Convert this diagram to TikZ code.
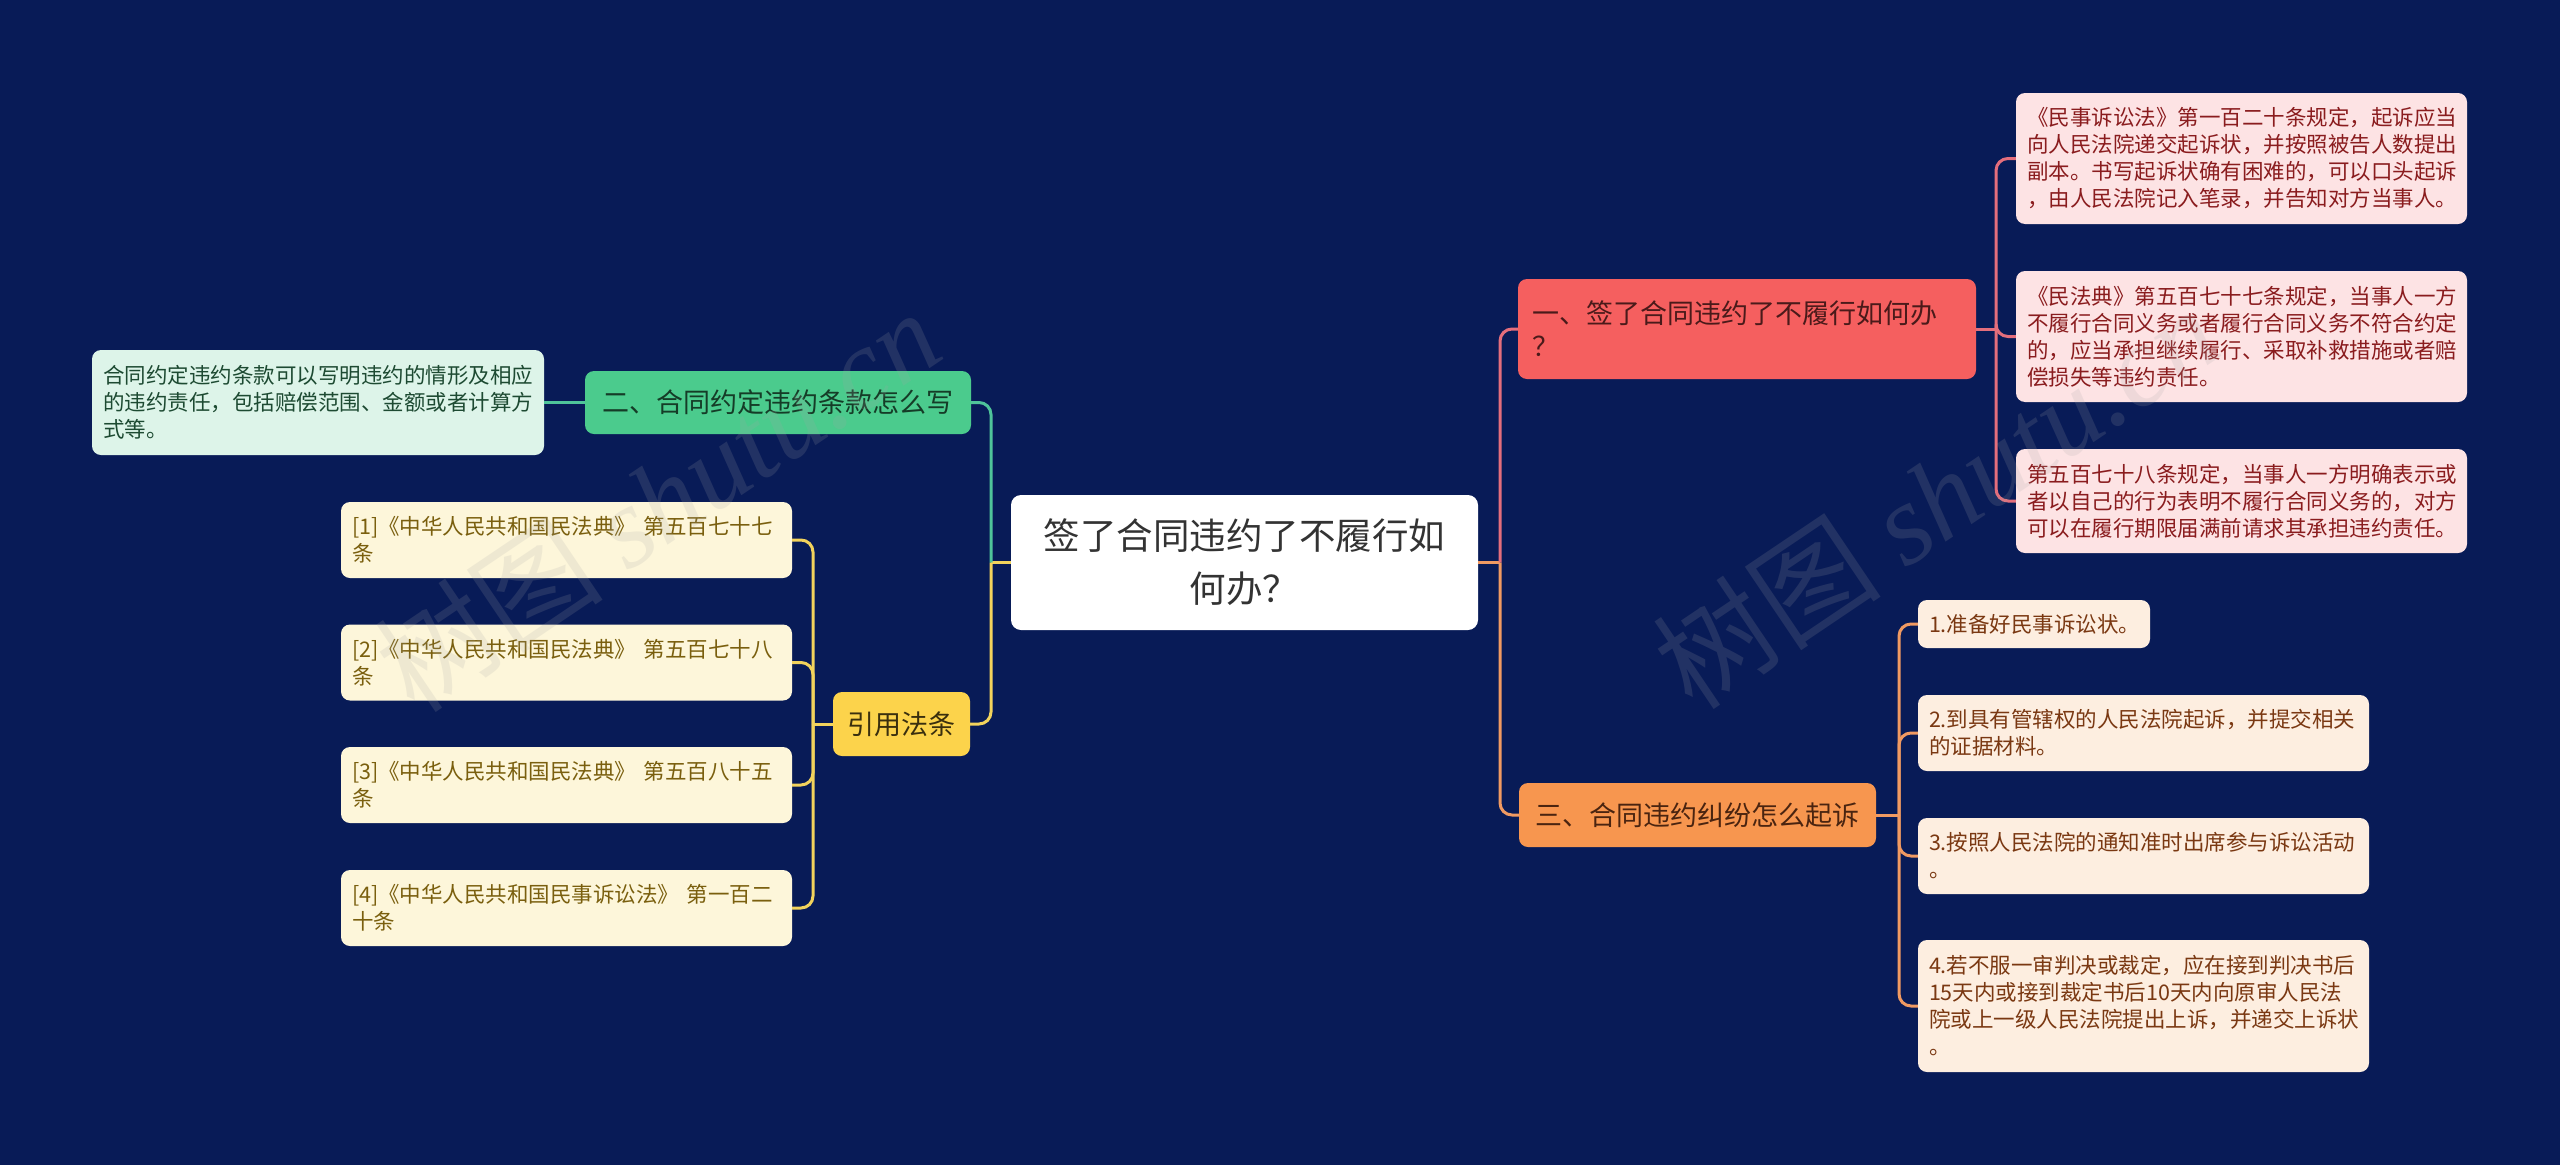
\documentclass[tikz,border=0pt]{standalone}
\usepackage{fontspec}
\setmainfont{Noto Sans CJK SC}
\newfontfamily\wmlatin{Liberation Serif}
\definecolor{bg}{HTML}{081B57}
\definecolor{pinkfill}{HTML}{FDE3E4}
\definecolor{pinktext}{HTML}{8A1C1E}
\definecolor{pinkline}{HTML}{E46E7C}
\definecolor{redfill}{HTML}{F55F5F}
\definecolor{redtext}{HTML}{4A1A1A}
\definecolor{orfill}{HTML}{FDEEE0}
\definecolor{ortext}{HTML}{7A3812}
\definecolor{orline}{HTML}{F09A62}
\definecolor{orbranch}{HTML}{F7964F}
\definecolor{orbtext}{HTML}{4A2410}
\definecolor{grfill}{HTML}{DDF4E9}
\definecolor{grtext}{HTML}{1D4A32}
\definecolor{grline}{HTML}{4FC49A}
\definecolor{grbranch}{HTML}{4BCB8D}
\definecolor{grbtext}{HTML}{153C27}
\definecolor{yefill}{HTML}{FDF6DA}
\definecolor{yetext}{HTML}{7A5F0E}
\definecolor{yeline}{HTML}{F2D35C}
\definecolor{yebranch}{HTML}{FCD34B}
\definecolor{yebtext}{HTML}{3A2F0E}
\definecolor{ctext}{HTML}{333333}
\tikzset{
  box/.style={rounded corners=9pt, inner xsep=11pt, inner ysep=0pt, align=left},
  leaf/.style={box, font=\fontsize{21.5}{27}\selectfont},
  leafP/.style={leaf, fill=pinkfill, text=pinktext, minimum width=451pt, text width=429pt},
  leafO/.style={leaf, fill=orfill, text=ortext},
  leafG/.style={leaf, fill=grfill, text=grtext, minimum width=452pt, text width=430pt},
  leafY/.style={leaf, fill=yefill, text=yetext, minimum width=451pt, text width=429pt, minimum height=76pt},
  branch/.style={rounded corners=9pt, inner sep=0pt, align=center, font=\fontsize{27}{33}\selectfont},
  conn/.style={line width=3pt},
  rc/.style={rounded corners=12pt},
  wm/.style={rotate=34, opacity=0.17, text=gray!70, font=\fontsize{115}{115}\selectfont}
}
\begin{document}
\begin{tikzpicture}[x=1pt,y=-1pt]
\fill[bg] (0,0) rectangle (2560,1165);
\useasboundingbox (0,0) rectangle (2560,1165);

% center
\node[rounded corners=10pt, fill=white, text=ctext, minimum width=467pt, minimum height=135pt,
  align=center, inner sep=0pt, font=\fontsize{36.5}{53}\selectfont] (c) at (1244.5,562.5)
  {签了合同违约了不履行如\\何办？};

% branches
\node[box, fill=redfill, text=redtext, minimum width=458pt, text width=430pt, inner xsep=14pt,
  minimum height=100pt, font=\fontsize{27}{33}\selectfont] (b1) at (1747,329)
  {一、签了合同违约了不履行如何办\\？};
\node[branch, fill=grbranch, text=grbtext, minimum width=386pt, minimum height=63pt] (b2) at (778,402.5)
  {二、合同约定违约条款怎么写};
\node[branch, fill=orbranch, text=orbtext, minimum width=357pt, minimum height=64pt] (b3) at (1697.5,815)
  {三、合同违约纠纷怎么起诉};
\node[branch, fill=yebranch, text=yebtext, minimum width=137pt, minimum height=64pt] (yr) at (901.5,724)
  {引用法条};

% pink leaves
\node[leafP, minimum height=131pt] (p1) at (2241.5,158.5)
  {《民事诉讼法》第一百二十条规定，起诉应当\\向人民法院递交起诉状，并按照被告人数提出\\副本。书写起诉状确有困难的，可以口头起诉\\，由人民法院记入笔录，并告知对方当事人。};
\node[leafP, minimum height=131pt] (p2) at (2241.5,336.5)
  {《民法典》第五百七十七条规定，当事人一方\\不履行合同义务或者履行合同义务不符合约定\\的，应当承担继续履行、采取补救措施或者赔\\偿损失等违约责任。};
\node[leafP, minimum height=104pt] (p3) at (2241.5,501)
  {第五百七十八条规定，当事人一方明确表示或\\者以自己的行为表明不履行合同义务的，对方\\可以在履行期限届满前请求其承担违约责任。};

% orange leaves
\node[leafO, minimum width=232pt, text width=210pt, minimum height=48pt] (o1) at (2034,624)
  {1.准备好民事诉讼状。};
\node[leafO, minimum width=451pt, text width=429pt, minimum height=76pt] (o2) at (2143.5,733)
  {2.到具有管辖权的人民法院起诉，并提交相关\\的证据材料。};
\node[leafO, minimum width=451pt, text width=429pt, minimum height=76pt] (o3) at (2143.5,856)
  {3.按照人民法院的通知准时出席参与诉讼活动\\。};
\node[leafO, minimum width=451pt, text width=429pt, minimum height=132pt] (o4) at (2143.5,1006)
  {4.若不服一审判决或裁定，应在接到判决书后\\15天内或接到裁定书后10天内向原审人民法\\院或上一级人民法院提出上诉，并递交上诉状\\。};

% green leaf
\node[leafG, minimum height=105pt] (g1) at (318,402.5)
  {合同约定违约条款可以写明违约的情形及相应\\的违约责任，包括赔偿范围、金额或者计算方\\式等。};

% yellow leaves
\node[leafY] (y1) at (566.5,540) {[1]《中华人民共和国民法典》 第五百七十七\\条};
\node[leafY] (y2) at (566.5,662.5) {[2]《中华人民共和国民法典》 第五百七十八\\条};
\node[leafY] (y3) at (566.5,785) {[3]《中华人民共和国民法典》 第五百八十五\\条};
\node[leafY] (y4) at (566.5,908) {[4]《中华人民共和国民事诉讼法》 第一百二\\十条};

% junctions
\coordinate (jR) at (1500,562.5);
\coordinate (jL) at (991,562.5);
\coordinate (jP) at (1996,329);
\coordinate (jO) at (1899,815);
\coordinate (jY) at (813,724);

% connectors: center
\draw[conn, orline] (c.east) -- (jR);
\draw[conn, pinkline, rc] (jR) |- (b1.west);
\draw[conn, orline, rc] (jR) |- (b3.west);
\draw[conn, yeline] (c.west) -- (jL);
\draw[conn, grline, rc] (jL) |- (b2.east);
\draw[conn, yeline, rc] (jL) |- (yr.east);

% branch 1
\draw[conn, pinkline] (b1.east) -- (jP);
\draw[conn, pinkline, rc] (jP) |- (p1.west);
\draw[conn, pinkline, rc] (jP) |- (p2.west);
\draw[conn, pinkline, rc] (jP) |- (p3.west);

% branch 3
\draw[conn, orline] (b3.east) -- (jO);
\draw[conn, orline, rc] (jO) |- (o1.west);
\draw[conn, orline, rc] (jO) |- (o2.west);
\draw[conn, orline, rc] (jO) |- (o3.west);
\draw[conn, orline, rc] (jO) |- (o4.west);

% branch 2
\draw[conn, grline] (b2.west) -- (g1.east);

% references
\draw[conn, yeline] (yr.west) -- (jY);
\draw[conn, yeline, rc] (jY) |- (y1.east);
\draw[conn, yeline, rc] (jY) |- (y2.east);
\draw[conn, yeline, rc] (jY) |- (y3.east);
\draw[conn, yeline, rc] (jY) |- (y4.east);

% watermarks
\node[wm] (wm1) at (657,500) {树图 {\wmlatin\itshape shutu.cn}};
\node[wm] (wm2) at (1935,497) {树图 {\wmlatin\itshape shutu.cn}};
\end{tikzpicture}
\end{document}
